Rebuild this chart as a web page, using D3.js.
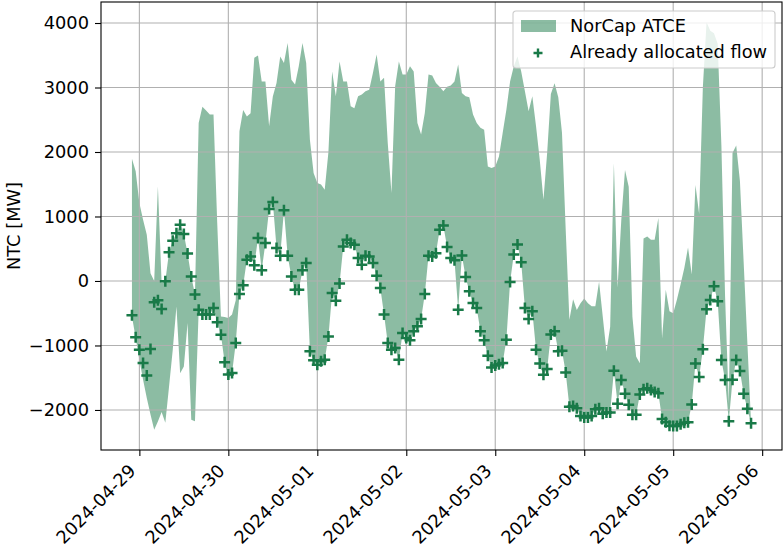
<!DOCTYPE html>
<html>
<head>
<meta charset="utf-8">
<script src="https://cdn.jsdelivr.net/npm/d3@7"></script>
<style>
  body { margin: 0; background: #fff; }
  svg text { font-family: "DejaVu Sans", sans-serif; fill: #000; }
</style>
</head>
<body>
<svg id="chart" width="783" height="547"></svg>
<script>
// hourly values, first point 2024-04-28 22:00 UTC
var firstHour = "2024-04-28T22:00:00Z";

var atceUpper = [
    1895, 1700, 1210, 950, 715, 120, 0, 1465, -30, 0, 444, 625, 740, 870, 730, 425, 70, -210, 2450, 2700, 2645, 2580, 2580, 900,
    -550, -560, -575, -520, -300, 2320, 2650, 2550, 2600, 3460, 3495, 3095, 3095, 2400, 2860, 3070, 3480, 3380, 3690, 3120, 3045, 3330, 3690, 3380,
    2190, 1675, 1520, 1495, 1415, 2000, 3250, 2865, 3405, 3095, 3095, 2710, 2680, 2865, 2890, 2940, 2965, 3225, 3510, 3095, 3150, 2140, 1365, 3020,
    3405, 3200, 3200, 3330, 3250, 2450, 2270, 2605, 3200, 3185, 3070, 3010, 2940, 3010, 3030, 3095, 3355, 2915, 2865, 2850, 2580, 2450, 2375, 2345,
    1775, 1750, 1775, 1930, 2295, 2655, 3095, 3330, 3480, 3250, 2940, 2630, 2865, 2400, 1880, 1260, 1985, 2900, 3065, 2850, 2300, 800, -600, -285,
    -450, -345, -270, -345, -390, -390, -10, -555, -1095, -710, 1825, -100, 945, 1720, 1460, -555, -1170, -1275, 660, 690, 640, 640, 975, -890,
    -135, -470, -500, -290, -50, 200, 520, 100, 1490, 1040, 3000, 4010, 3880, 3840, 3680, 2100, -250, -1900, 1985, 2100, 1550, 300, -950, -2200
];

var atceLower = [
    -550, -880, -1220, -1530, -1815, -2070, -2305, -2180, -2030, -2200, -1640, -1070, -395, -1430, -1325, -650, -2150, -2175, -445, -520, -520, -520, -420, -640,
    -835, -1260, -1530, -1425, -960, -200, -65, 330, 380, 245, 665, 165, 590, 1115, 1225, 510, 390, 1095, 390, 70, -135, -135, 165, 280,
    -1090, -1230, -1300, -1245, -1220, -860, -185, -305, -40, 535, 640, 590, 560, 355, 250, 390, 380, 280, 80, -110, -520, -960, -1065, -1040,
    -1220, -805, -885, -920, -780, -700, -590, -200, 390, 380, 430, 795, 860, 525, 355, 320, -445, 395, 60, -160, -340, -420, -780, -920,
    -1160, -1340, -1310, -1290, -1270, -910, -15, 410, 565, 290, -420, -590, -470, -1065, -1280, -1455, -1365, -830, -780, -1090, -1080, -1420, -1950, -1940,
    -1975, -2095, -2115, -2115, -2095, -1990, -1975, -2060, -2040, -2040, -1390, -1905, -1535, -1750, -1920, -2075, -2075, -1760, -1680, -1665, -1690, -1720, -1740, -2140,
    -2190, -2245, -2250, -2250, -2220, -2200, -2190, -1915, -1280, -1490, -1060, -440, -295, -80, -315, -1225, -1535, -2175, -1530, -1225, -1395, -1750, -1980, -2205
];

var allocatedFlow = [
    -532, -873, -1065, -1270, -1467, -1054, -330, -300, -434, -5, 444, 625, 740, 870, 730, 425, 70, -210, -445, -520, -520, -520, -420, -640,
    -835, -1260, -1450, -1425, -960, -200, -65, 330, 380, 245, 665, 165, 590, 1115, 1225, 510, 390, 1095, 390, 70, -135, -135, 165, 280,
    -1090, -1230, -1300, -1245, -1220, -860, -185, -305, -40, 535, 640, 590, 560, 355, 250, 390, 380, 280, 80, -110, -520, -960, -1065, -1040,
    -1220, -805, -885, -920, -780, -700, -590, -200, 390, 380, 430, 795, 860, 525, 355, 320, -445, 395, 60, -160, -340, -420, -780, -920,
    -1160, -1340, -1310, -1290, -1270, -910, -15, 410, 565, 290, -420, -590, -470, -1065, -1280, -1455, -1365, -830, -780, -1090, -1080, -1420, -1950, -1940,
    -1975, -2095, -2115, -2115, -2095, -1990, -1975, -2060, -2040, -2040, -1390, -1905, -1535, -1750, -1920, -2075, -2075, -1760, -1680, -1665, -1690, -1720, -1740, -2140,
    -2190, -2245, -2250, -2250, -2220, -2200, -2190, -1915, -1280, -1490, -1060, -440, -295, -80, -315, -1225, -1535, -2175, -1530, -1225, -1395, -1750, -1980, -2205
];

var dayTicks = ["2024-04-29", "2024-04-30", "2024-05-01", "2024-05-02", "2024-05-03", "2024-05-04", "2024-05-05", "2024-05-06"];
var yTicks = [-2000, -1000, 0, 1000, 2000, 3000, 4000];

var green = "#197a48";
var fontSize = 17.8;
var margin = {top: 2, right: 1, bottom: 97, left: 101};
var width = 783 - margin.left - margin.right;
var height = 547 - margin.top - margin.bottom;

var t0 = new Date(firstHour);
var data = allocatedFlow.map(function (v, i) {
    return {date: d3.utcHour.offset(t0, i), flow: v, lo: atceLower[i], hi: atceUpper[i]};
});

// matplotlib style 5% margins
function pad(ext) {
    var s = ext[1] - ext[0];
    return [ext[0] - 0.05 * s, ext[1] + 0.05 * s];
}
var xExt = pad(d3.extent(data, function (d) { return +d.date; }));
var yMin = d3.min(data, function (d) { return Math.min(d.lo, d.flow); });
var yMax = d3.max(data, function (d) { return Math.max(d.hi, d.flow); });

var x = d3.scaleUtc().domain([new Date(xExt[0]), new Date(xExt[1])]).range([0, width]);
var y = d3.scaleLinear().domain(pad([yMin, yMax])).range([height, 0]);

var svg = d3.select("#chart");
var g = svg.append("g").attr("transform", "translate(" + margin.left + "," + margin.top + ")");

var parseDay = d3.utcParse("%Y-%m-%d");
var dayDates = dayTicks.map(parseDay);

// band
var area = d3.area()
    .x(function (d) { return x(d.date); })
    .y0(function (d) { return y(d.lo); })
    .y1(function (d) { return y(d.hi); });

g.append("path")
    .datum(data)
    .attr("fill", green)
    .attr("fill-opacity", 0.5)
    .attr("d", area);

// grid
g.append("g").selectAll("line").data(dayDates).enter().append("line")
    .attr("x1", function (d) { return x(d); }).attr("x2", function (d) { return x(d); })
    .attr("y1", 0).attr("y2", height)
    .attr("stroke", "#b0b0b0").attr("stroke-width", 1.1);
g.append("g").selectAll("line").data(yTicks).enter().append("line")
    .attr("y1", function (d) { return y(d); }).attr("y2", function (d) { return y(d); })
    .attr("x1", 0).attr("x2", width)
    .attr("stroke", "#b0b0b0").attr("stroke-width", 1.1);

// markers
var plus = "M-5.5,0H5.5M0,-5.5V5.5";
g.append("g").selectAll("path").data(data).enter().append("path")
    .attr("transform", function (d) { return "translate(" + x(d.date) + "," + y(d.flow) + ")"; })
    .attr("d", plus)
    .attr("stroke", green)
    .attr("stroke-width", 2.5)
    .attr("fill", "none");

// axes
var xAxis = g.append("g")
    .attr("transform", "translate(0," + height + ")")
    .call(d3.axisBottom(x).tickValues(dayDates).tickFormat(d3.utcFormat("%Y-%m-%d")).tickSize(6).tickPadding(6));
xAxis.select(".domain").remove();
xAxis.selectAll("line").attr("stroke", "#000").attr("stroke-width", 1.1);
xAxis.selectAll("text")
    .attr("font-size", fontSize)
    .attr("text-anchor", "end")
    .attr("dy", null)
    .attr("y", null)
    .attr("transform", "translate(-3,22) rotate(-45)");

var yAxis = g.append("g")
    .call(d3.axisLeft(y).tickValues(yTicks).tickFormat(d3.format("d")).tickSize(6).tickPadding(6));
yAxis.select(".domain").remove();
yAxis.selectAll("line").attr("stroke", "#000").attr("stroke-width", 1.1);
yAxis.selectAll("text").attr("font-size", fontSize);

// frame
g.append("rect")
    .attr("width", width).attr("height", height)
    .attr("fill", "none").attr("stroke", "#000").attr("stroke-width", 1.1);

svg.append("text")
    .attr("transform", "translate(13," + (margin.top + height / 2) + ") rotate(-90)")
    .attr("text-anchor", "middle")
    .attr("dominant-baseline", "central")
    .attr("font-size", fontSize)
    .text("NTC [MW]");

// legend
var leg = svg.append("g").attr("transform", "translate(513,11)");
leg.append("rect")
    .attr("width", 262).attr("height", 57).attr("rx", 3)
    .attr("fill", "#fff").attr("fill-opacity", 0.8)
    .attr("stroke", "#cccccc").attr("stroke-width", 1.1);
leg.append("rect")
    .attr("x", 8).attr("y", 9).attr("width", 35).attr("height", 12)
    .attr("fill", green).attr("fill-opacity", 0.5);
leg.append("text").attr("x", 57).attr("y", 21).attr("font-size", fontSize).text("NorCap ATCE");
leg.append("path")
    .attr("transform", "translate(25,42)")
    .attr("d", "M-4.5,0H4.5M0,-4.5V4.5")
    .attr("stroke", green).attr("stroke-width", 2.4)
    .attr("fill", "none");
leg.append("text").attr("x", 57).attr("y", 47).attr("font-size", fontSize).text("Already allocated flow");
</script>
</body>
</html>
